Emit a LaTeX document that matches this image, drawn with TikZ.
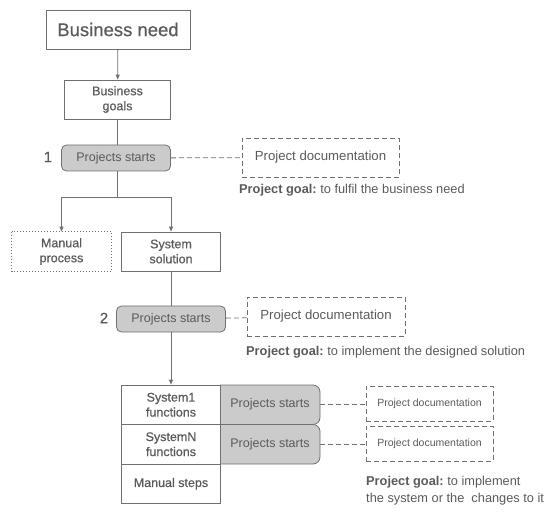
\documentclass[tikz,border=0pt]{standalone}
\usepackage{fontspec}
\setmainfont{Liberation Sans}
\newfontfamily\medfont{Liberation Sans}[FakeBold=0.6]
\usetikzlibrary{arrows.meta}
\definecolor{ln}{HTML}{707070}
\definecolor{tx}{HTML}{5A5A5A}
\definecolor{gf}{HTML}{CBCBCB}
\begin{document}
\begin{tikzpicture}[x=1pt,y=-1pt,
  base/.style={text=tx, align=center, inner sep=0pt, font=\fontsize{12.5}{15}\selectfont},
  box/.style={base, draw=ln, line width=0.8pt, font=\medfont\fontsize{12.5}{15}\selectfont},
  dbox/.style={base, draw=ln, line width=0.8pt, dash pattern=on 5pt off 3pt},
  pstart/.style={base, draw=ln, fill=gf, line width=0.8pt, rounded corners=5pt},
  link/.style={draw=ln, line width=0.8pt},
  arr/.style={link, -{Triangle[length=5pt,width=4pt]}},
  dlink/.style={link, dash pattern=on 5pt off 3pt},
  num/.style={text=tx, font=\medfont\fontsize{15}{18}\selectfont},
  goal/.style={text=tx, anchor=west, align=left, inner sep=0pt, font=\frenchspacing\fontsize{12.8}{17}\selectfont}]
\useasboundingbox (0,0) rectangle (559,526);
% top
\node[box, minimum width=144pt, minimum height=39pt, font=\medfont\fontsize{18.5}{22}\selectfont] (bn) at (118,29.5) {Business need};
\node[box, minimum width=106pt, minimum height=39pt] (bg) at (117.5,99.5) {Business\\goals};
\node[pstart, minimum width=109pt, minimum height=26pt] (ps1) at (116,158) {Projects starts};
\node[num] (n1) at (48,157) {1};
\node[dbox, minimum width=157pt, minimum height=39pt, font=\fontsize{13.2}{15}\selectfont] (doc1) at (320.5,157.5) {Project documentation};
\node[goal] (g1) at (239,190) {\textbf{Project goal:} to fulfil the business need};
% branch
\coordinate (sp) at (117.5,197);
\node[box, draw=none, minimum width=99pt, minimum height=39pt] (mp) at (61.5,251.5) {Manual\\process};
\draw[ln, line width=0.8pt, dash pattern=on 1pt off 2pt] (mp.north west) rectangle (mp.south east);
\node[box, minimum width=99pt, minimum height=39pt] (ss) at (171,251.5) {System\\solution};
\node[pstart, minimum width=109pt, minimum height=26pt] (ps2) at (171,319) {Projects starts};
\node[num] (n2) at (104,318) {2};
\node[dbox, minimum width=158pt, minimum height=39pt, font=\fontsize{13.2}{15}\selectfont] (doc2) at (326,316.5) {Project documentation};
\node[goal] (g2) at (246,352) {\textbf{Project goal:} to implement the designed solution};
% system stack
\fill[gf, rounded corners=7pt] (215,385) -| (320,424.5) -- (215,424.5) -- cycle;
\draw[ln, line width=0.8pt, rounded corners=7pt] (220,385) -| (320,424.5) -- (220,424.5);
\fill[gf, rounded corners=7pt] (215,424.5) -| (320,464) -- (215,464) -- cycle;
\draw[ln, line width=0.8pt, rounded corners=7pt] (220,424.5) -| (320,464) -- (220,464);
\node[box, fill=white, minimum width=99pt, minimum height=39.5pt] (s1) at (171,404.75) {System1\\functions};
\node[box, fill=white, minimum width=99pt, minimum height=39.5pt] (sn) at (171,444.25) {SystemN\\functions};
\node[box, fill=white, minimum width=99pt, minimum height=39.5pt] (ms) at (171,483.75) {Manual steps};
\node[base, minimum width=100pt, minimum height=39.5pt] (p3) at (270,404.75) {Projects starts};
\node[base, minimum width=100pt, minimum height=39.5pt] (p4) at (270,444.25) {Projects starts};
\node[dbox, minimum width=127pt, minimum height=35pt, font=\fontsize{10.5}{13}\selectfont] (doc3) at (429.5,403.5) {Project documentation};
\node[dbox, minimum width=127pt, minimum height=35pt, font=\fontsize{10.5}{13}\selectfont] (doc4) at (429.5,443.5) {Project documentation};
\node[goal] (g3) at (366,491) {\textbf{Project goal:} to implement\\the system or the\ \ changes to it};
% connectors
\draw[arr] (bn) -- (bg);
\draw[link] (bg) -- (bg.south |- ps1.north);
\draw[link] (bg.south |- ps1.south) -- (sp);
\draw[arr] (sp) -| (mp.north);
\draw[arr] (sp) -| (ss.north);
\draw[dlink] (ps1) -- (doc1);
\draw[link] (ss) -- (ps2);
\draw[dlink] (ps2) -- (doc2);
\draw[arr] (ps2) -- (s1);
\draw[dlink] (p3) -- (doc3.west |- p3);
\draw[dlink] (p4) -- (doc4.west |- p4);
\end{tikzpicture}
\end{document}
